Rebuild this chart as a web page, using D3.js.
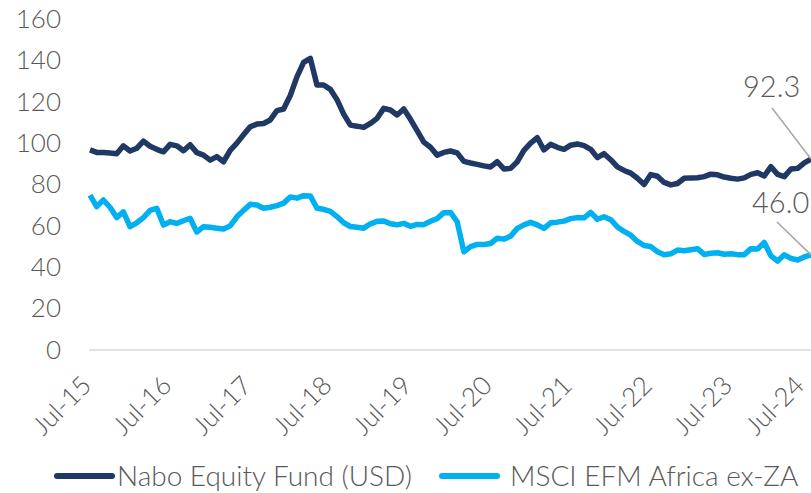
<!DOCTYPE html>
<html lang="en">
<head>
<meta charset="UTF-8">
<title>Nabo Equity Fund vs MSCI EFM Africa ex-ZA</title>
<script src="https://cdn.jsdelivr.net/npm/d3@7"></script>
<style>
  body { margin: 0; background: #fff; }
  text { font-family: Lato, "Open Sans", sans-serif; font-weight: 300; fill: #595959; }
</style>
</head>
<body>
<script>

var w = 811;
var h = 493;

// monthly, Jul-15 .. Jul-24
var nabo = [
  96.7, 95.5, 95.5, 95.2, 94.9, 98.7, 96.2, 97.5, 101, 98.5, 97, 95.8,
  99.4, 98.7, 96.3, 99.2, 95.4, 94.2, 91.8, 93.5, 91.0, 96.5, 100, 104,
  107.9, 109.2, 109.5, 111.2, 115.7, 116.5, 123, 132, 139, 141, 128.1, 128.1,
  126, 121, 114, 108.7, 108.2, 107.6, 109.5, 112, 116.8, 116, 113.6, 116.5,
  111.5, 106, 100.5, 98, 94.2, 95.5, 96.2, 95.3, 91.2, 90.4, 89.7, 89,
  88.5, 91, 87.5, 87.8, 91, 96.5, 100, 102.6, 96.7, 99.4, 98, 97,
  99, 99.6, 98.8, 97, 93, 94.9, 92, 88.5, 86.8, 85.5, 83, 80,
  84.8, 84, 81, 79.8, 80.5, 83, 83.2, 83.3, 83.8, 85, 84.7, 83.6,
  83, 82.6, 83.2, 84.9, 85.7, 84.1, 88.6, 84.9, 83.8, 87.5, 87.8, 90.5,
  92.3
];

var msci = [
  74.9, 69.3, 72.5, 69, 64, 66.8, 59.6, 61.5, 64, 67.5, 68.5, 60.4,
  62, 61.2, 62.5, 63.7, 57, 59.6, 59.3, 58.9, 58.5, 60, 64.4, 67.5,
  70.4, 70.1, 68.5, 69, 69.8, 71, 74, 73.4, 74.6, 74.5, 68.5, 68,
  67, 64.5, 61.5, 59.7, 59.3, 58.9, 61, 62.2, 62.4, 61, 60.5, 61.2,
  59.8, 60.7, 60.6, 62.2, 63.5, 66.4, 66.5, 62, 47.5, 50, 51, 51,
  51.5, 54, 53.6, 55, 58.8, 60.5, 61.7, 60.5, 58.8, 61.5, 61.8, 62.3,
  63.5, 64, 63.9, 66.5, 63.2, 64.4, 63, 59.5, 57.3, 55.5, 52.5, 50.5,
  50, 47.5, 46, 46.5, 48.3, 48, 48.5, 49, 46.2, 46.8, 47, 46.3,
  46.5, 46.1, 46, 49, 48.8, 52, 45.5, 43, 46, 44.3, 43.5, 45,
  46.0
];

var yTicks = [0, 20, 40, 60, 80, 100, 120, 140, 160];
var xTickLabels = ["Jul-15", "Jul-16", "Jul-17", "Jul-18", "Jul-19", "Jul-20", "Jul-21", "Jul-22", "Jul-23", "Jul-24"];
var seriesNames = ["Nabo Equity Fund (USD)", "MSCI EFM Africa ex-ZA"];
var colors = ["#1f3864", "#00b0f0"];

var months = d3.timeMonth.range(new Date(2015, 6, 1), new Date(2024, 7, 1));
var fmt = d3.timeFormat("%b-%y");

var svg = d3.select("body").append("svg")
    .attr("width", w)
    .attr("height", h);

var x = d3.scalePoint()
    .domain(d3.range(months.length))
    .range([90, 811]);

var y = d3.scaleLinear()
    .domain([0, 160])
    .range([350, 19]);

// baseline
svg.append("line")
    .attr("x1", 89).attr("x2", 811)
    .attr("y1", y(0)).attr("y2", y(0))
    .attr("stroke", "#d9d9d9")
    .attr("stroke-width", 1.5);

// y axis labels
var yAxis = svg.append("g")
    .attr("transform", "translate(61,0)")
    .call(d3.axisLeft(y).tickValues(yTicks).tickSize(0).tickPadding(0));
yAxis.select(".domain").remove();
yAxis.selectAll("text")
    .attr("font-size", "26px")
    .attr("fill", "#595959")
    .style("font-family", null);

// x axis labels, one per year
var xIdx = months.map(function(d, i) { return i; })
    .filter(function(i) { return xTickLabels.indexOf(fmt(months[i])) >= 0; });

svg.selectAll(".xlab")
    .data(xIdx)
    .enter()
    .append("text")
    .attr("class", "xlab")
    .attr("text-anchor", "end")
    .attr("font-size", "26px")
    .attr("transform", function(i) { return "translate(" + Math.min(x(i) + 3, 806) + ",387) rotate(-45)"; })
    .text(function(i) { return fmt(months[i]); });

var line = d3.line()
    .x(function(d, i) { return x(i); })
    .y(function(d) { return y(d); });

[nabo, msci].forEach(function(s, k) {
    svg.append("path")
        .datum(s)
        .attr("d", line)
        .attr("fill", "none")
        .attr("stroke", colors[k])
        .attr("stroke-width", 5.5)
        .attr("stroke-linejoin", "round");
});

// end labels
var last = months.length - 1;
var ends = [
    { v: nabo[last], tx: 743, ty: 97, lx: 772, ly: 108 },
    { v: msci[last], tx: 752, ty: 213, lx: 777, ly: 222 }
];
ends.forEach(function(e) {
    svg.append("line")
        .attr("x1", e.lx).attr("y1", e.ly)
        .attr("x2", x(last)).attr("y2", y(e.v))
        .attr("stroke", "#a6a6a6")
        .attr("stroke-width", 1.5);
    svg.append("text")
        .attr("x", e.tx).attr("y", e.ty)
        .attr("font-size", "29px")
        .text(e.v.toFixed(1));
});

// legend
var legend = svg.append("g");
var lx = [57, 442];
seriesNames.forEach(function(name, k) {
    legend.append("line")
        .attr("x1", lx[k]).attr("x2", lx[k] + 55)
        .attr("y1", 476).attr("y2", 476)
        .attr("stroke", colors[k])
        .attr("stroke-width", 6)
        .attr("stroke-linecap", "round");
    legend.append("text")
        .attr("x", lx[k] + (k === 0 ? 60 : 68))
        .attr("y", 486)
        .attr("font-size", "28px")
        .text(name);
});

</script>
</body>
</html>
